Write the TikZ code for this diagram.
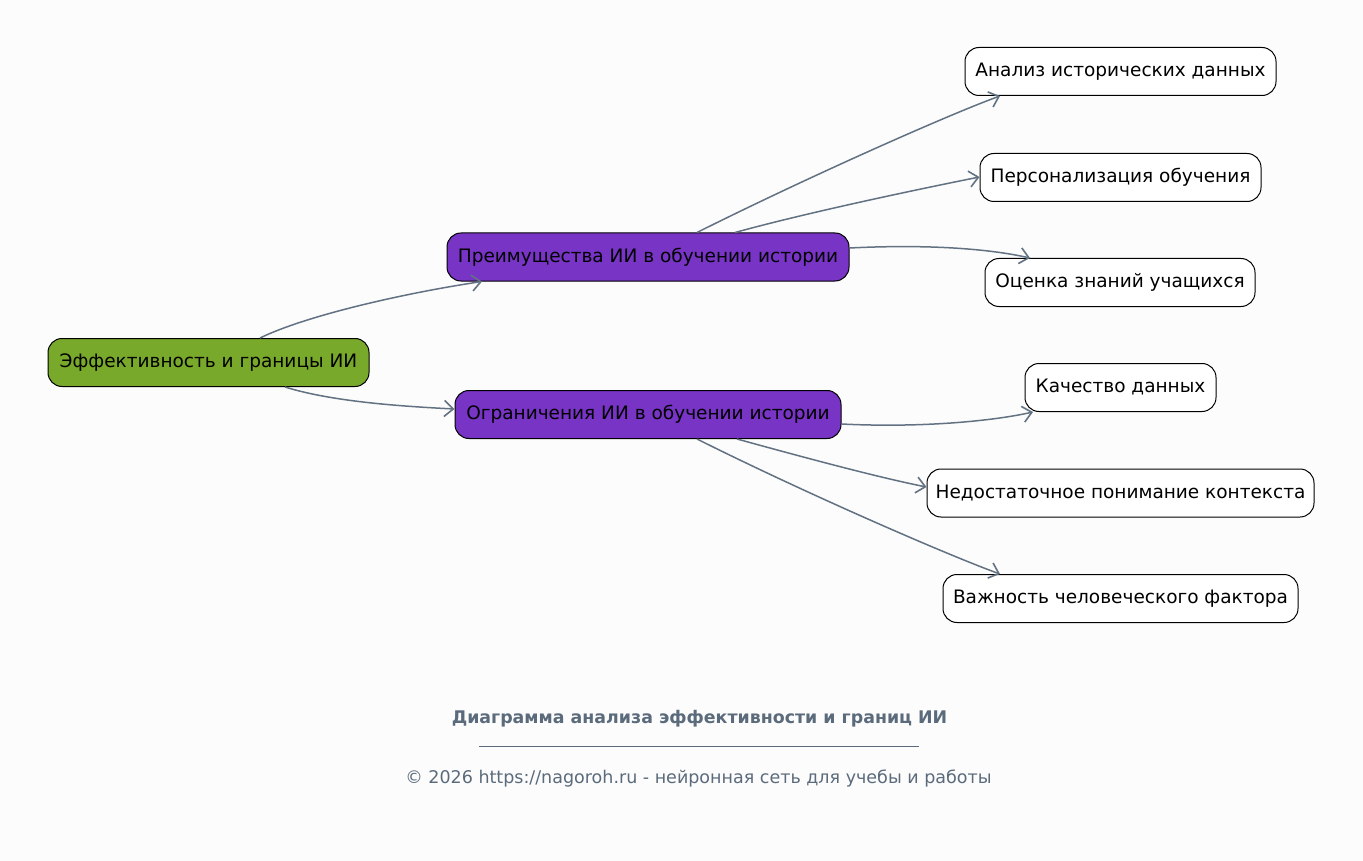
\documentclass[tikz,border=0pt]{standalone}
\usepackage{fontspec}
\setmainfont{DejaVu Sans}
\usetikzlibrary{arrows.meta}
\definecolor{bgc}{HTML}{FCFCFC}
\definecolor{rootc}{HTML}{79A92B}
\definecolor{midc}{HTML}{7734C5}
\definecolor{edgec}{HTML}{627282}
\definecolor{titlec}{HTML}{5B6B7C}
\tikzset{
  box/.style={draw=black, line width=1pt, rounded corners=14pt, minimum height=48pt, inner sep=0pt, font=\fontsize{18.5}{21}\selectfont, text=black},
  rootbox/.style={box, fill=rootc},
  midbox/.style={box, fill=midc},
  leafbox/.style={box, fill=white},
  conn/.style={draw=edgec, line width=1.5pt, -{Straight Barb[length=9pt,width=16pt,line width=1.6pt]}},
}
\begin{document}
\begin{tikzpicture}[x=1pt,y=-1pt]
\fill[bgc] (0,0) rectangle (1363,861);
\useasboundingbox (0,0) rectangle (1363,861);

\node[rootbox, minimum width=321pt] (root) at (208.5,362.5) {Эффективность и границы ИИ};
\node[midbox, minimum width=402pt] (preim) at (648,257) {Преимущества ИИ в обучении истории};
\node[midbox, minimum width=386pt] (ogran) at (648,414.5) {Ограничения ИИ в обучении истории};

\node[leafbox, minimum width=311pt] (a1) at (1120.5,71.5) {Анализ исторических данных};
\node[leafbox, minimum width=281pt] (a2) at (1120.5,177.5) {Персонализация обучения};
\node[leafbox, minimum width=270pt] (a3) at (1120,282.5) {Оценка знаний учащихся};
\node[leafbox, minimum width=191pt] (b1) at (1120.5,387.5) {Качество данных};
\node[leafbox, minimum width=387pt] (b2) at (1120.5,493) {Недостаточное понимание контекста};
\node[leafbox, minimum width=355pt] (b3) at (1120.5,598.5) {Важность человеческого фактора};

\path[conn] ([shift={(51.5,0)}]root.north) .. controls +(45,-22) and +(-80,12) .. ([shift={(-166,0)}]preim.south);
\path[conn] ([shift={(76.5,0)}]root.south) .. controls +(45,14) and +(-60,-3) .. ([shift={(0,-5.5)}]ogran.west);

\path[conn] ([shift={(49,0)}]preim.north) .. controls +(110,-55) and +(-50,18) .. ([shift={(-120.5,0)}]a1.south);
\path[conn] ([shift={(87,0)}]preim.north) .. controls +(80,-22) and +(-45,9) .. ([shift={(0,-0.5)}]a2.west);
\path[conn] ([shift={(0,-9)}]preim.east) .. controls +(80,-4) and +(-40,-9) .. ([shift={(-90,0)}]a3.north);

\path[conn] ([shift={(0,9.5)}]ogran.east) .. controls +(80,4) and +(-40,9) .. ([shift={(-87.5,0)}]b1.south);
\path[conn] ([shift={(89,0)}]ogran.south) .. controls +(80,22) and +(-45,-9) .. ([shift={(0,-6)}]b2.west);
\path[conn] ([shift={(49,0)}]ogran.south) .. controls +(110,55) and +(-50,-18) .. ([shift={(-120.5,0)}]b3.north);

\node[font=\fontsize{17.4}{20}\selectfont\bfseries, text=titlec] (title) at (699.5,718.5) {Диаграмма анализа эффективности и границ ИИ};
\coordinate (l1) at (479,746);
\coordinate (l2) at (919,746);
\draw[titlec, line width=0.8pt] (l1) -- (l2);
\node[font=\fontsize{17.5}{20}\selectfont, text=titlec] (foot) at (698.5,778.5) {© 2026 https://nagoroh.ru - нейронная сеть для учебы и работы};
\end{tikzpicture}
\end{document}
